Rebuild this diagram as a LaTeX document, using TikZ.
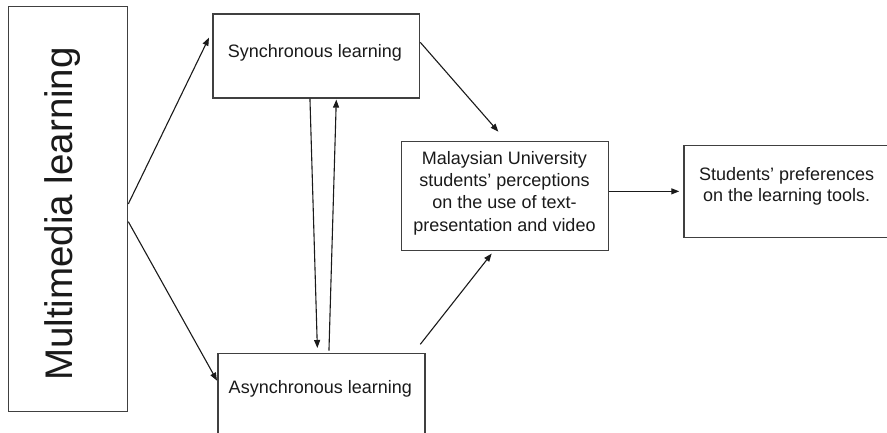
\documentclass[tikz,border=0pt]{standalone}
\usepackage{fontspec}
\setmainfont{Liberation Sans}
\usetikzlibrary{arrows.meta}
\definecolor{edge}{HTML}{404040}
\definecolor{ink}{HTML}{1A1A1A}
\tikzset{
  box/.style={draw=edge, line width=1.3pt, fill=white, inner sep=0pt, anchor=north west},
  txt/.style={text=ink, inner sep=0pt, align=center, font=\fontsize{18}{22.2}\selectfont},
  conn/.style={draw=ink, line width=1.1pt, -{Triangle[length=8pt,width=6pt]}},
}
\begin{document}
\begin{tikzpicture}[x=1pt,y=-1pt]
\useasboundingbox (0,0) rectangle (887,433);
\clip (0,0) rectangle (887,433);
\fill[white] (0,0) rectangle (887,433);
% boxes
\node[box, minimum width=119pt, minimum height=405pt] (mm) at (8,6) {};
\node[box, minimum width=206.7pt, minimum height=84pt] (sync) at (212.3,13.3) {};
\node[box, minimum width=207pt, minimum height=79.8pt] (async) at (217.3,352.7) {};
\node[box, minimum width=207pt, minimum height=109pt] (mal) at (400.7,141) {};
\node[box, minimum width=230pt, minimum height=91.7pt] (stu) at (683.3,145) {};
% texts
\node[txt, rotate=90, font=\fontsize{38.5}{46}\selectfont] (mmT) at (62.5,214) {Multimedia learning};
\node[txt, anchor=base] (syncT) at (315,57.3) {Synchronous learning};
\node[txt, anchor=base] (asyncT) at (320.3,393.3) {Asynchronous learning};
\node[txt] (malT) at (504.5,193.1) {Malaysian University\\students’ perceptions\\on the use of text-\\presentation and video};
\node[txt, font=\fontsize{18}{21.7}\selectfont] (stuT) at (786.7,186.3) {Students’ preferences\\on the learning tools.};
% connectors
\draw[conn] ([yshift=5.2pt]mm.east) -- ([xshift=-3.3pt,yshift=18.3pt]sync.west);
\draw[conn] ([yshift=-12.5pt]mm.east) -- ([xshift=-0.3pt,yshift=12.6pt]async.west);
\draw[conn] ([yshift=13.6pt]sync.east) -- ([xshift=-6.5pt,yshift=9.3pt]mal.north);
\draw[conn] ([xshift=-5.3pt,yshift=8.4pt]async.north east) -- ([xshift=-13.2pt,yshift=-2.3pt]mal.south);
\draw[conn] ([yshift=4.8pt]mal.east) -- ([xshift=-4pt,yshift=4.8pt]stu.west |- mal.east);
\draw[conn] ([xshift=-6.35pt]sync.south) -- ([xshift=-4.1pt,yshift=4.7pt]async.north);
\draw[conn] ([xshift=7.5pt,yshift=2pt]async.north) -- ([xshift=20pt,yshift=-1pt]sync.south);
\end{tikzpicture}
\end{document}
